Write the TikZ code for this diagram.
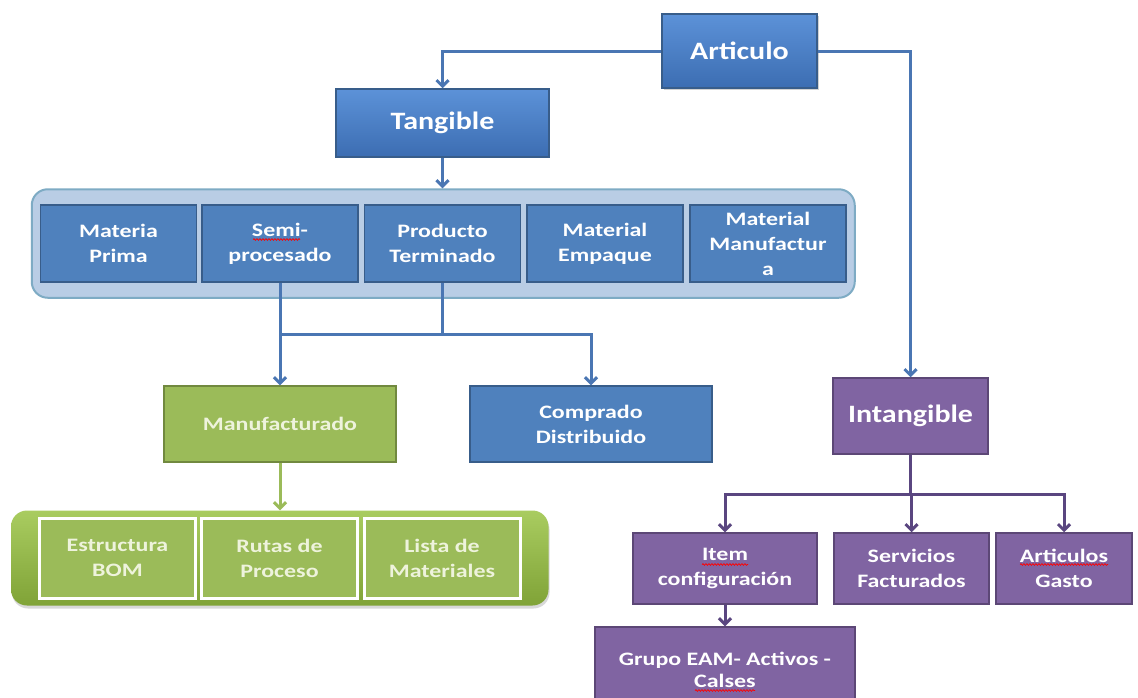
\documentclass[tikz,border=0pt]{standalone}
\usepackage{fontspec}
\usetikzlibrary{arrows.meta, positioning, fit, backgrounds, shadows, calc, decorations.pathmorphing}
\newfontfamily\boxfont[FakeStretch=1.26]{Carlito}
\newfontfamily\titlefont[FakeStretch=1.2]{Carlito}
\definecolor{blueFill}{HTML}{4F81BD}
\definecolor{blueEdge}{HTML}{385D8A}
\definecolor{blueTop}{HTML}{5C92D8}
\definecolor{blueBot}{HTML}{3C6DB2}
\definecolor{panelBlue}{HTML}{B9CDE5}
\definecolor{panelEdge}{HTML}{7EABC4}
\definecolor{greenFill}{HTML}{9BBB59}
\definecolor{greenEdge}{HTML}{71893F}
\definecolor{greenTop}{HTML}{A9CC60}
\definecolor{greenBot}{HTML}{80A337}
\definecolor{purpleFill}{HTML}{8064A2}
\definecolor{purpleEdge}{HTML}{5C4776}
\definecolor{lineBlue}{HTML}{4A76B3}
\definecolor{linePurple}{HTML}{5A4680}
\definecolor{cream}{HTML}{EEF3DC}

\begin{document}
\begin{tikzpicture}[
  x=1pt, y=-1pt,
  %--- shared node styles -----------------------------------------
  box/.style={
    rectangle, line width=1.5pt, align=center, text=white,
    font=\boxfont\bfseries\fontsize{19}{25}\selectfont,
    inner sep=2pt
  },
  title/.style={
    box, draw=blueEdge, top color=blueTop, bottom color=blueBot,
    font=\titlefont\bfseries\fontsize{25}{30}\selectfont
  },
  bluebox/.style={box, fill=blueFill, draw=blueEdge},
  cell/.style={bluebox, minimum width=156pt, minimum height=77pt},
  greenbox/.style={box, fill=greenFill, draw=greenEdge, text=cream},
  gcell/.style={
    box, fill=greenFill, draw=white, line width=3pt, text=cream,
    minimum width=156pt, minimum height=80pt
  },
  purplebox/.style={box, fill=purpleFill, draw=purpleEdge},
  pcell/.style={purplebox, minimum height=71pt},
  arr/.style={-{Straight Barb[length=6pt,width=12pt]}, line width=3pt, draw=lineBlue},
  link/.style={line width=3pt, draw=lineBlue},
  garr/.style={arr, draw=greenFill},
  parr/.style={arr, draw=linePurple},
  spell/.style={draw=red, line width=0.7pt, decorate,
    decoration={snake, amplitude=0.9pt, segment length=3pt}},
]
\useasboundingbox (0,0) rectangle (1138,697);
\clip (0,0) rectangle (1138,697);

%% --- ROW 0: Articulo ---------------------------------------------
\node[title, minimum width=155pt, minimum height=74pt,
  drop shadow={opacity=0.35, shadow xshift=1.5pt, shadow yshift=-2pt}]
  (art) at (739.5, 51) {Articulo};

%% --- ROW 1: Tangible ---------------------------------------------
\node[title, minimum width=213pt, minimum height=68pt] (tang) at (442.5, 123) {Tangible};

%% --- ROW 2: tangible kinds (blue band) -------------------------
\node[cell] (prima) at (118.5, 243.5) {Materia\\Prima};
\node[cell] (semi)  at (280, 243.5)   {Semi-\\procesado};
\node[cell] (prod)  at (442.5, 243.5) {Producto\\Terminado};
\node[cell] (emp)   at (605, 243.5)   {Material\\Empaque};
\node[cell] (manu)  at (768, 243.5)   {Material\\Manufactur\\a};

%% --- ROW 3: Manufacturado, Comprado, Intangible ---------------
\node[greenbox, minimum width=232pt, minimum height=76pt] (manf) at (280, 424) {Manufacturado};
\node[bluebox, minimum width=242pt, minimum height=76pt] (comp) at (591, 424) {Comprado\\Distribuido};
\node[purplebox, minimum width=155pt, minimum height=76pt,
  font=\titlefont\bfseries\fontsize{25}{30}\selectfont] (intang) at (910.5, 416) {Intangible};

%% --- ROW 4: green band -------------------------------------------
\node[gcell] (bom)   at (117.5, 558) {Estructura\\BOM};
\node[gcell] (rutas) at (279.5, 558) {Rutas de\\Proceso};
\node[gcell] (lista) at (442, 558)   {Lista de\\Materiales};

%% --- ROW 4: intangible kinds ---------------------------------------
\node[pcell, minimum width=184pt] (item) at (725, 568.5) {Item\\configuración};
\node[pcell, minimum width=155pt] (serv) at (911.5, 568.5) {Servicios\\Facturados};
\node[pcell, minimum width=136pt] (artg) at (1064, 568.5) {Articulos\\Gasto};

%% --- ROW 5: Grupo EAM (cut by the lower edge) ----------------------
\node[purplebox, minimum width=260pt, minimum height=85pt,
  font=\boxfont\bfseries\fontsize{19}{22}\selectfont] (grupo) at (725, 669.5)
  {Grupo EAM- Activos -\\Calses};

%% spell-check waves under some words
\draw[spell] ($(semi.center)+(-27,-4)$) -- ($(semi.center)+(20,-4)$);
\draw[spell] ($(item.center)+(-23,-4)$) -- ($(item.center)+(23,-4)$);
\draw[spell] ($(artg.center)+(-44,-4)$) -- ($(artg.center)+(44,-4)$);
\draw[spell] ($(grupo.center)+(-30,21)$) -- ($(grupo.center)+(30,21)$);

%% bands behind the boxes
\begin{scope}[on background layer]
  \fill[white] (0,0) rectangle (1138,697);
  \node[draw=panelEdge, line width=2pt, fill=panelBlue, rounded corners=16pt,
    fit=(prima)(manu), inner xsep=8pt, inner ysep=15pt] (bpanel) {};
  \node[top color=greenTop, bottom color=greenBot, rounded corners=16pt,
    fit=(bom)(lista), inner xsep=27pt, inner ysep=6pt,
    drop shadow={opacity=0.3, shadow xshift=1pt, shadow yshift=-3pt}] (gpanel) {};
\end{scope}

%% --- arrows -----------------------------------------------------
% Articulo -> Tangible / Intangible
\draw[arr] (art.west) -| (tang.north);
\draw[arr] (art.east) -| (intang.north);
% Tangible -> blue band
\draw[arr] (tang.south) -- (tang.south |- bpanel.north);
% Semi-procesado / Producto -> Manufacturado, Comprado
\coordinate (split) at (442.5, 334);
\draw[link] (prod.south) -- (split);
\draw[link] (split) -- (split -| manf.north);
\draw[arr] (semi.south) -- (manf.north);
\draw[arr] (split) -| (comp.north);
% Manufacturado -> green band
\draw[garr] (manf.south) -- (manf.south |- gpanel.north);
% Intangible -> three kinds
\coordinate (ibranch) at (910.5, 494);
\draw[parr] (intang.south) -- (ibranch) -- (ibranch -| serv.north) -- (serv.north);
\draw[parr] (ibranch) -| (item.north);
\draw[parr] (ibranch) -| (artg.north);
% Item -> Grupo EAM
\draw[parr] (item.south) -- (grupo.north);

\end{tikzpicture}
\end{document}
